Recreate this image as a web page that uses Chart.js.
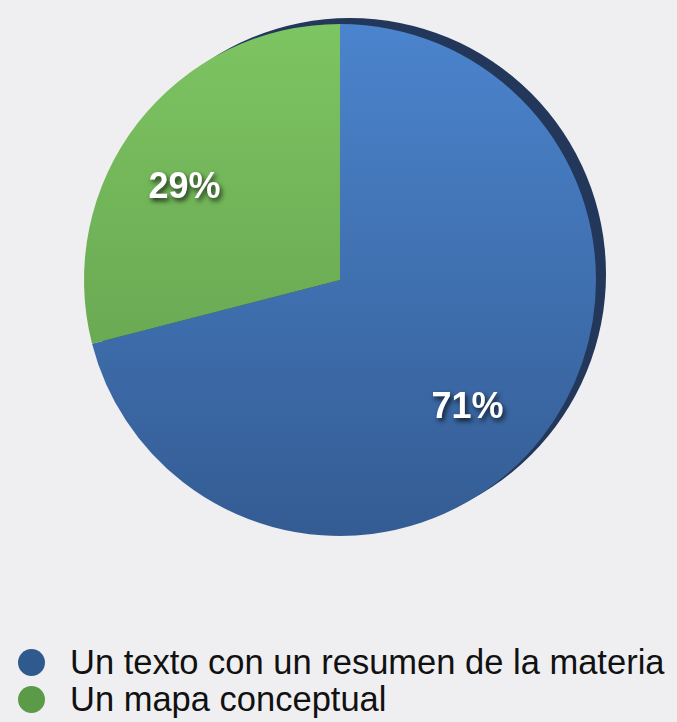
<!DOCTYPE html>
<html>
<head>
<meta charset="utf-8">
<script src="https://cdn.jsdelivr.net/npm/chart.js@4/dist/chart.umd.min.js"></script>
<style>
  html, body { margin: 0; padding: 0; }
  body {
    width: 677px; height: 722px; overflow: hidden;
    background: #efeff1;
    font-family: "Liberation Sans", Arial, Helvetica, sans-serif;
    position: relative;
  }
  .chart-box { position: absolute; left: 0; top: 0; width: 677px; height: 600px; }
  #pie-legend { position: absolute; left: 18px; top: 644px; margin: 0; padding: 0; list-style: none; }
  #pie-legend li { display: flex; align-items: center; height: 37px; font-size: 34.5px; color: #111; white-space: nowrap; }
  #pie-legend .dot { width: 27px; height: 27px; border-radius: 50%; margin-right: 25px; flex: none; }
</style>
</head>
<body>
<div class="chart-box"><canvas id="pie-chart"></canvas></div>
<ul id="pie-legend"></ul>

<script>
/* Pie: ¿qué prefieres para estudiar? */

const categories = ['Un texto con un resumen de la materia', 'Un mapa conceptual'];
const shares = [71, 29];
const legendColors = ['#2f5a8e', '#5b9a47'];

// gradient stops per slice, top -> bottom
const sliceGradients = [
  ['#4b84cd', '#345c93'],
  ['#7dc462', '#5f9a4a']
];

function sliceFill(ctx) {
  const area = ctx.chart.chartArea;
  if (!area) return legendColors[ctx.dataIndex];
  const g = ctx.chart.ctx.createLinearGradient(0, area.top, 0, area.bottom);
  const stops = sliceGradients[ctx.dataIndex];
  g.addColorStop(0, stops[0]);
  g.addColorStop(1, stops[1]);
  return g;
}

// dark rim peeking out behind the pie on the right
const rimShadow = {
  id: 'rimShadow',
  beforeDatasetsDraw(chart) {
    const arc = chart.getDatasetMeta(0).data[0];
    if (!arc) return;
    const c = chart.ctx;
    c.save();
    c.beginPath();
    c.arc(arc.x + 10, arc.y - 6, arc.outerRadius, 0, Math.PI * 2);
    c.fillStyle = '#22375a';
    c.fill();
    c.restore();
  }
};

// white percent labels inside each slice
const sliceLabels = {
  id: 'sliceLabels',
  afterDatasetsDraw(chart) {
    const c = chart.ctx;
    const data = chart.data.datasets[0].data;
    const total = data.reduce((s, v) => s + v, 0);
    chart.getDatasetMeta(0).data.forEach((arc, i) => {
      const mid = (arc.startAngle + arc.endAngle) / 2;
      const r = arc.outerRadius * 0.7;
      // labels sit a little down-left of the slice middle (tilted pie look)
      const x = arc.x + Math.cos(mid) * r - 14;
      const y = arc.y + Math.sin(mid) * r + 18;
      c.save();
      c.font = 'bold 36px "Liberation Sans", Arial, sans-serif';
      c.textAlign = 'center';
      c.textBaseline = 'middle';
      c.shadowColor = 'rgba(0,0,0,0.75)';
      c.shadowOffsetX = 2;
      c.shadowOffsetY = 3;
      c.shadowBlur = 5;
      c.fillStyle = '#ffffff';
      c.fillText(Math.round(data[i] / total * 100) + '%', x, y);
      c.restore();
    });
  }
};

const chart = new Chart(document.getElementById('pie-chart'), {
  type: 'pie',
  data: {
    labels: categories,
    datasets: [{
      data: shares,
      backgroundColor: sliceFill,
      borderWidth: 0,
      hoverOffset: 0
    }]
  },
  options: {
    responsive: true,
    maintainAspectRatio: false,
    animation: false,
    layout: { padding: { left: 84, right: 81, top: 24, bottom: 64 } },
    plugins: {
      legend: { display: false },
      tooltip: { enabled: false }
    }
  },
  plugins: [rimShadow, sliceLabels]
});

document.getElementById('pie-legend').innerHTML = categories.map((name, i) => `
  <li><span class="dot" style="background:${legendColors[i]}"></span>${name}</li>
`).join('');
</script>
</body>
</html>
